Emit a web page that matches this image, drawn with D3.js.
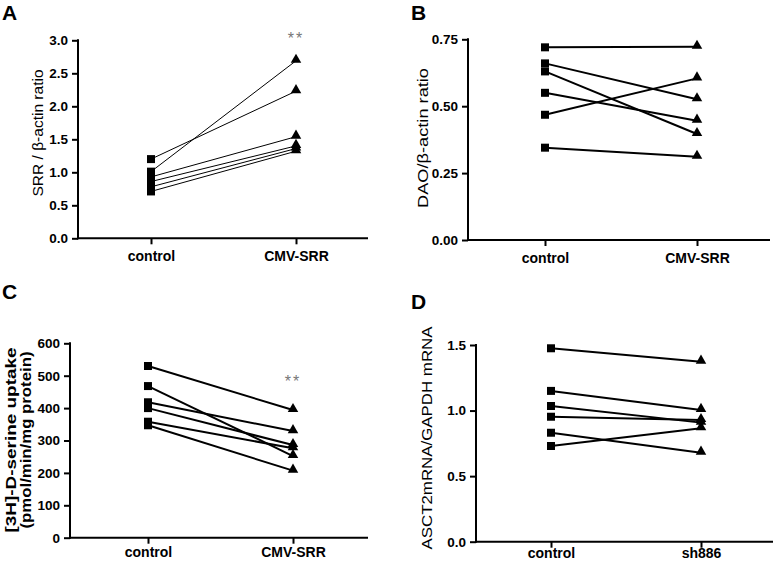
<!DOCTYPE html>
<html>
<head>
<meta charset="utf-8">
<script src="https://cdn.jsdelivr.net/npm/d3@7"></script>
<style>
  body { margin: 0; background: #fff; }
  svg { font-family: "Liberation Sans", Arial, sans-serif; }
</style>
</head>
<body>
<svg id="fig" width="777" height="562"></svg>
<script>
// categories
const catsSRR = ['control', 'CMV-SRR'];
const catsSh = ['control', 'sh886'];

// panel A: SRR / beta-actin
const aControl = [1.20, 1.01, 0.93, 0.86, 0.78, 0.71];
const aSRR     = [2.23, 2.69, 1.54, 1.40, 1.36, 1.32];
const aTicks = [0, 0.5, 1.0, 1.5, 2.0, 2.5, 3.0];

// panel B: DAO / beta-actin
const bControl = [0.720, 0.660, 0.630, 0.550, 0.468, 0.345];
const bSRR     = [0.722, 0.526, 0.396, 0.446, 0.604, 0.311];
const bTicks = [0, 0.25, 0.50, 0.75];

// panel C: [3H]-D-serine uptake
const cControl = [530, 468, 418, 400, 358, 347];
const cSRR     = [394, 252, 329, 286, 276, 207];
const cTicks = [0, 100, 200, 300, 400, 500, 600];

// panel D: ASCT2 mRNA / GAPDH mRNA
const dControl = [1.475, 1.150, 1.035, 0.953, 0.831, 0.730];
const dSh      = [1.373, 1.005, 0.908, 0.928, 0.679, 0.866];
const dTicks = [0, 0.5, 1.0, 1.5];

const svg = d3.select('#fig');

function panel(opt) {
	const g = svg.append('g');

	let y = d3.scaleLinear().domain(opt.domain).range([opt.bottom, opt.top]);
	let x = d3.scalePoint().domain(opt.cats).range([opt.cx0, opt.cx1]);

	// y axis
	let ya = g.append('g')
		.attr('transform', 'translate(' + opt.left + ',0)')
		.call(d3.axisLeft(y).tickValues(opt.ticks).tickFormat(d3.format(opt.fmt)).tickSizeOuter(0).tickSize(6).tickPadding(4));
	ya.select('.domain').attr('stroke-width', 2).attr('d', 'M0,' + (opt.top - 1) + 'V' + (opt.bottom + 1));
	ya.selectAll('.tick line').attr('stroke-width', 2);
	ya.selectAll('.tick text').attr('font-size', 13.5).attr('font-weight', 'bold').attr('fill', '#000')
		.attr('font-family', '"Liberation Sans", Arial, sans-serif');

	// x axis
	let xa = g.append('g')
		.attr('transform', 'translate(0,' + opt.bottom + ')')
		.call(d3.axisBottom(x).tickSize(6).tickPadding(opt.xpad));
	xa.select('.domain').remove();
	xa.append('line').attr('x1', opt.left - 1).attr('x2', opt.right).attr('stroke', '#000').attr('stroke-width', 2);
	xa.selectAll('.tick line').attr('stroke-width', 2);
	xa.selectAll('.tick text').attr('font-size', 14).attr('font-weight', 'bold').attr('fill', '#000')
		.attr('font-family', '"Liberation Sans", Arial, sans-serif');

	// paired lines
	const pairs = opt.before.map((v, i) => [v, opt.after[i]]);
	g.selectAll('line.pair').data(pairs).join('line')
		.attr('x1', x(opt.cats[0])).attr('x2', x(opt.cats[1]))
		.attr('y1', d => y(d[0])).attr('y2', d => y(d[1]))
		.attr('stroke', '#000').attr('stroke-width', opt.lw);

	g.selectAll('path.sq').data(opt.before).join('path')
		.attr('transform', d => 'translate(' + x(opt.cats[0]) + ',' + y(d) + ')')
		.attr('d', d3.symbol(d3.symbolSquare, 64))
		.attr('fill', '#000');

	g.selectAll('path.tri').data(opt.after).join('path')
		.attr('transform', d => 'translate(' + x(opt.cats[1]) + ',' + (y(d) - 1) + ')')
		.attr('d', d3.symbol(d3.symbolTriangle, 48))
		.attr('fill', '#000');

	if (opt.star != null) {
		g.append('text')
			.attr('x', x(opt.cats[1])).attr('y', y(opt.star))
			.attr('text-anchor', 'middle').attr('font-size', 16).attr('fill', '#777')
			.attr('letter-spacing', 2)
			.text('**');
	}

	// y label
	opt.label.forEach((t, i) => {
		g.append('text')
			.attr('transform', 'translate(' + opt.labelX[i] + ',' + opt.labelY + ') rotate(-90)')
			.attr('text-anchor', 'middle')
			.attr('font-size', opt.labelSize)
			.attr('font-weight', opt.labelBold ? 'bold' : 'normal')
			.attr('textLength', opt.labelLen[i])
			.attr('lengthAdjust', 'spacingAndGlyphs')
			.text(t);
	});

	// panel letter
	g.append('text')
		.attr('x', opt.letterX).attr('y', opt.letterY)
		.attr('font-size', 21).attr('font-weight', 'bold')
		.text(opt.letter);
}

panel({
	letter: 'A', letterX: 2, letterY: 20,
	cats: catsSRR, before: aControl, after: aSRR,
	domain: [0, 3], ticks: aTicks, fmt: '.1f',
	left: 78, right: 368, top: 40.3, bottom: 238.3, cx0: 151, cx1: 296,
	lw: 1, star: 2.95, xpad: 7,
	label: ['SRR / \u03b2-actin ratio'], labelX: [43], labelY: 133, labelLen: [127],
	labelSize: 15, labelBold: false
});

panel({
	letter: 'B', letterX: 411, letterY: 20,
	cats: catsSRR, before: bControl, after: bSRR,
	domain: [0, 0.75], ticks: bTicks, fmt: '.2f',
	left: 468, right: 770, top: 39.3, bottom: 240, cx0: 545, cx1: 697,
	lw: 2, star: null, xpad: 7,
	label: ['DAO/\u03b2-actin ratio'], labelX: [428], labelY: 138, labelLen: [140],
	labelSize: 15, labelBold: false
});

panel({
	letter: 'C', letterX: 2, letterY: 299,
	cats: catsSRR, before: cControl, after: cSRR,
	domain: [0, 600], ticks: cTicks, fmt: 'd',
	left: 70, right: 368, top: 343.3, bottom: 537.7, cx0: 148, cx1: 293,
	lw: 2, star: 465, xpad: 3,
	label: ['[3H]-D-serine uptake', '(pmol/min/mg protein)'], labelX: [16, 31], labelY: 440, labelLen: [185, 177],
	labelSize: 14, labelBold: true
});

panel({
	letter: 'D', letterX: 411, letterY: 309,
	cats: catsSh, before: dControl, after: dSh,
	domain: [0, 1.5], ticks: dTicks, fmt: '.1f',
	left: 476, right: 773, top: 345, bottom: 541.7, cx0: 551, cx1: 701,
	lw: 2, star: null, xpad: 0,
	label: ['ASCT2mRNA/GAPDH mRNA'], labelX: [432], labelY: 438, labelLen: [223],
	labelSize: 15, labelBold: false
});
</script>
</body>
</html>
